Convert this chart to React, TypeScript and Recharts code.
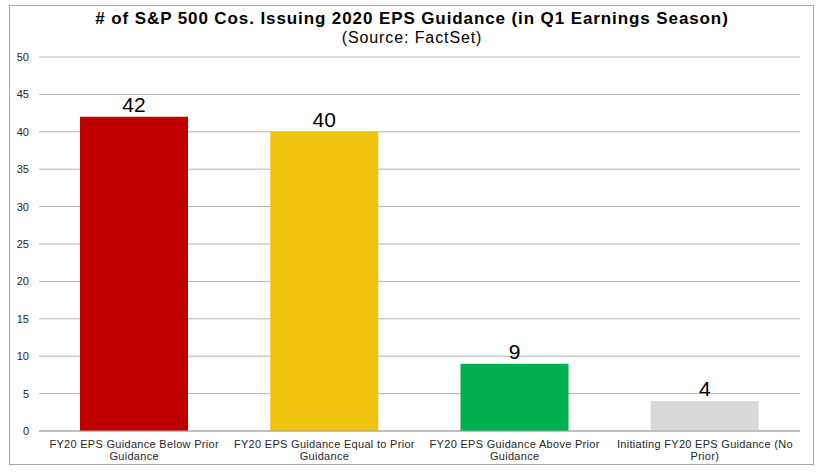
import React from "react";
import { BarChart, Bar, XAxis, YAxis, CartesianGrid, Cell, LabelList } from "recharts";

const categories = [
  "FY20 EPS Guidance Below Prior Guidance",
  "FY20 EPS Guidance Equal to Prior Guidance",
  "FY20 EPS Guidance Above Prior Guidance",
  "Initiating FY20 EPS Guidance (No Prior)",
];
const counts = [42, 40, 9, 4];
const barColors = ["#c00000", "#f0c30f", "#00b050", "#d9d9d9"];
const yTicks = [0, 5, 10, 15, 20, 25, 30, 35, 40, 45, 50];

const data = categories.map((name, i) => ({ name, value: counts[i] }));

const FONT = "Arial, 'Liberation Sans', sans-serif";

// last word drops to the second line, like the Excel original
function CategoryTick(props: any) {
  const { x, y, payload } = props;
  const s = String(payload.value);
  const cut = s.lastIndexOf(" ");
  const lines = [s.slice(0, cut), s.slice(cut + 1)];
  return (
    <text
      x={x}
      y={y}
      textAnchor="middle"
      fontSize={11}
      fontFamily={FONT}
      fill="#262626"
      letterSpacing={0.3}
    >
      {lines.map((l, i) => (
        <tspan key={i} x={x} dy={i === 0 ? 15 : 11.5}>
          {l}
        </tspan>
      ))}
    </text>
  );
}

export default function App() {
  return (
    <div style={{ position: "absolute", left: 0, top: 0, width: 822, height: 473, background: "#fff", fontFamily: FONT }}>
      <div
        style={{
          position: "absolute",
          left: 9,
          top: 5,
          width: 803,
          height: 458,
          border: "1px solid #a6a6a6",
        }}
      />
      <div
        style={{
          position: "absolute",
          left: 0,
          top: 9,
          width: 824,
          textAlign: "center",
          fontSize: 17,
          fontWeight: "bold",
          letterSpacing: 0.9,
          color: "#000",
        }}
      >
        # of S&amp;P 500 Cos. Issuing 2020 EPS Guidance (in Q1 Earnings Season)
      </div>
      <div
        style={{
          position: "absolute",
          left: 0,
          top: 29,
          width: 824,
          textAlign: "center",
          fontSize: 16,
          letterSpacing: 0.9,
          color: "#000",
        }}
      >
        (Source: FactSet)
      </div>
      <div style={{ position: "absolute", left: 0, top: 0 }}>
        <BarChart
          width={822}
          height={473}
          data={data}
          margin={{ top: 57, right: 22, left: 0, bottom: 0 }}
          barCategoryGap={41}
        >
          <CartesianGrid vertical={false} stroke="#b3b3b3" strokeWidth={1} />
          <XAxis
            dataKey="name"
            height={42}
            tickLine={false}
            tickSize={0}
            axisLine={{ stroke: "#a6a6a6" }}
            interval={0}
            tick={<CategoryTick />}
          />
          <YAxis
            width={39}
            domain={[0, 50]}
            ticks={yTicks}
            interval={0}
            tickLine={false}
            axisLine={false}
            tickSize={0}
            tickMargin={10}
            tick={{ fontSize: 11, fill: "#262626", fontFamily: FONT }}
          />
          <Bar dataKey="value" isAnimationActive={false}>
            {data.map((d, i) => (
              <Cell key={d.name} fill={barColors[i]} />
            ))}
            <LabelList dataKey="value" position="top" offset={5} fontSize={21} fill="#000" fontFamily={FONT} />
          </Bar>
        </BarChart>
      </div>
    </div>
  );
}
